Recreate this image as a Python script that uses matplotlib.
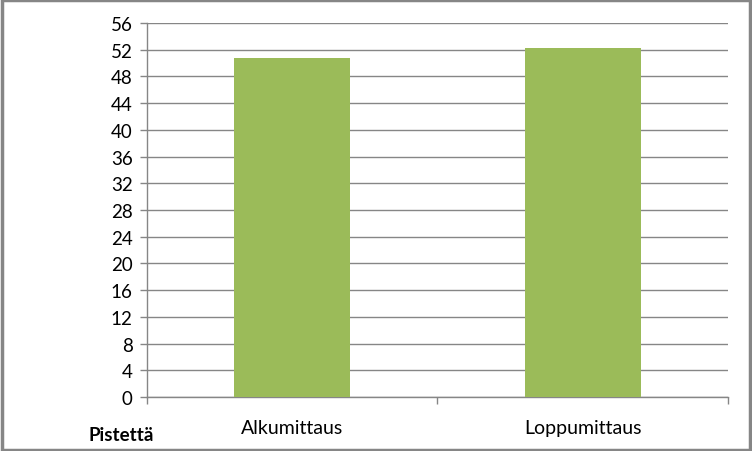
import matplotlib.pyplot as plt
from matplotlib.patches import Rectangle

# data
categories = ['Alkumittaus', 'Loppumittaus']
values = [50.8, 52.2]
y_ticks = list(range(0, 57, 4))

plt.rcParams['font.family'] = ['Lato', 'DejaVu Sans']

fig = plt.figure(figsize=(7.52, 4.52), dpi=100)
W, H = 752, 452
ax = fig.add_axes([146.7 / W, 1 - 398 / H, (728 - 146.7) / W, (398 - 24) / H])

x = list(range(len(categories)))
ax.bar(x, values, width=0.4, color='#9BBB59', zorder=3)

ax.set_xlim(-0.5, len(categories) - 0.5)
ax.set_ylim(0, 56)
ax.set_yticks(y_ticks)
ax.set_yticklabels([str(t) for t in y_ticks], fontsize=13.5)
ax.yaxis.grid(True, color='#868686', linewidth=1.0, zorder=0)

# category labels centred, tick marks at category boundaries
ax.set_xticks([-0.5, 0.5, 1.5])
ax.set_xticklabels([])
ax.set_xticks(x, minor=True)
ax.set_xticklabels(categories, minor=True, fontsize=14)
ax.tick_params(axis='x', which='minor', length=0, pad=16)
ax.tick_params(axis='x', which='major', length=5, color='#868686', width=1)
ax.tick_params(axis='y', length=5, color='#868686', width=1, pad=5)

for s in ['top', 'right']:
    ax.spines[s].set_visible(False)
for s in ['left', 'bottom']:
    ax.spines[s].set_color('#868686')
    ax.spines[s].set_linewidth(1)

fig.text(88 / W, 1 - 436 / H, 'Pistettä', fontsize=13.5, fontweight='bold', va='center')

# outer chart frame
fig.patches.append(Rectangle((0.002, 0.003), 0.995, 0.994, transform=fig.transFigure,
                             fill=False, edgecolor='#868686', linewidth=2.5))

fig.savefig('out.png', dpi=100)
